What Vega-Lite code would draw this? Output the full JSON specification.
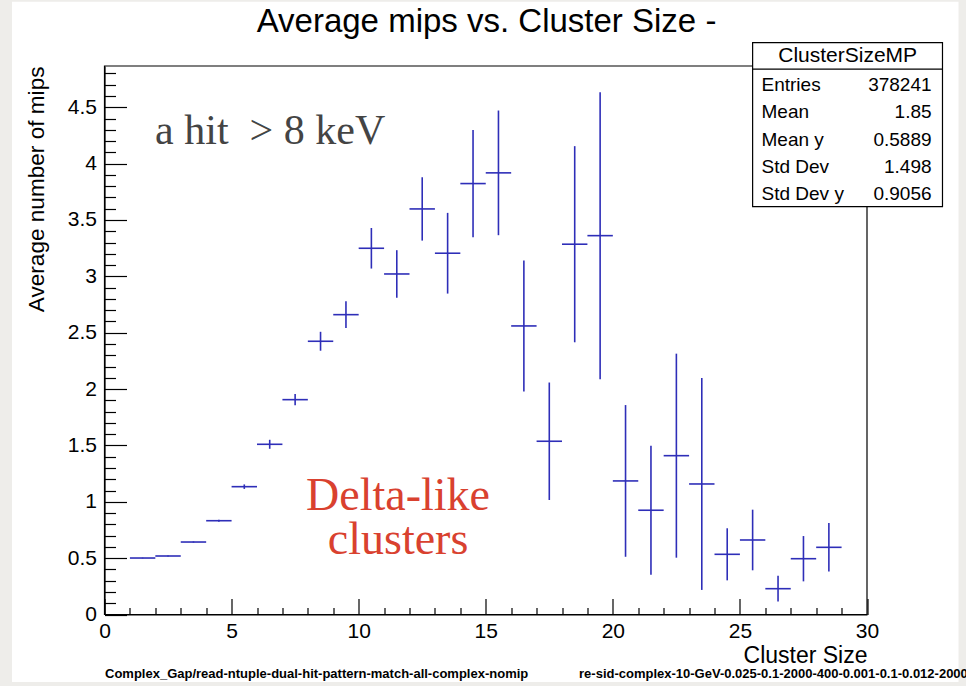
{
  "$schema": "https://vega.github.io/schema/vega-lite/v6.json",
  "width": 762.5,
  "height": 548.5,
  "autosize": "none",
  "padding": {"left": 104.5, "top": 66, "right": 99, "bottom": 71.5},
  "background": "#eeedea",
  "config": {
    "view": {"stroke": null},
    "font": "Liberation Sans"
  },
  "layer": [
    {
      "data": {
        "values": [
          {"size": 1.5, "from": 1, "to": 2, "mean": 0.501, "err": 0.003},
          {"size": 2.5, "from": 2, "to": 3, "mean": 0.519, "err": 0.004},
          {"size": 3.5, "from": 3, "to": 4, "mean": 0.643, "err": 0.005},
          {"size": 4.5, "from": 4, "to": 5, "mean": 0.832, "err": 0.009},
          {"size": 5.5, "from": 5, "to": 6, "mean": 1.134, "err": 0.02},
          {"size": 6.5, "from": 6, "to": 7, "mean": 1.51, "err": 0.04},
          {"size": 7.5, "from": 7, "to": 8, "mean": 1.906, "err": 0.05},
          {"size": 8.5, "from": 8, "to": 9, "mean": 2.424, "err": 0.084},
          {"size": 9.5, "from": 9, "to": 10, "mean": 2.66, "err": 0.118},
          {"size": 10.5, "from": 10, "to": 11, "mean": 3.249, "err": 0.18},
          {"size": 11.5, "from": 11, "to": 12, "mean": 3.021, "err": 0.211},
          {"size": 12.5, "from": 12, "to": 13, "mean": 3.598, "err": 0.281},
          {"size": 13.5, "from": 13, "to": 14, "mean": 3.205, "err": 0.358},
          {"size": 14.5, "from": 14, "to": 15, "mean": 3.823, "err": 0.476},
          {"size": 15.5, "from": 15, "to": 16, "mean": 3.918, "err": 0.553},
          {"size": 16.5, "from": 16, "to": 17, "mean": 2.56, "err": 0.581},
          {"size": 17.5, "from": 17, "to": 18, "mean": 1.537, "err": 0.521},
          {"size": 18.5, "from": 18, "to": 19, "mean": 3.285, "err": 0.87},
          {"size": 19.5, "from": 19, "to": 20, "mean": 3.361, "err": 1.273},
          {"size": 20.5, "from": 20, "to": 21, "mean": 1.185, "err": 0.673},
          {"size": 21.5, "from": 21, "to": 22, "mean": 0.925, "err": 0.572},
          {"size": 22.5, "from": 22, "to": 23, "mean": 1.409, "err": 0.905},
          {"size": 23.5, "from": 23, "to": 24, "mean": 1.158, "err": 0.94},
          {"size": 24.5, "from": 24, "to": 25, "mean": 0.534, "err": 0.231},
          {"size": 25.5, "from": 25, "to": 26, "mean": 0.661, "err": 0.269},
          {"size": 26.5, "from": 26, "to": 27, "mean": 0.229, "err": 0.114},
          {"size": 27.5, "from": 27, "to": 28, "mean": 0.495, "err": 0.201},
          {"size": 28.5, "from": 28, "to": 29, "mean": 0.596, "err": 0.215}
        ]
      },
      "layer": [
        {
          "data": {"values": [{}]},
          "mark": {"type": "rect", "fill": "#ffffff"},
          "encoding": {
            "x": {"datum": -3.64, "axis": null},
            "x2": {"datum": 33.6},
            "y": {"datum": 5.435, "axis": null},
            "y2": {"datum": -0.599}
          }
        },
        {
          "mark": {"type": "rule", "color": "#2e2eb8", "strokeWidth": 1.6},
          "encoding": {
            "x": {
              "field": "from",
              "type": "quantitative",
              "scale": {"domain": [0, 30], "nice": false, "zero": false},
              "axis": {
                "zindex": 1,
                "title": "Cluster Size",
                "titleAnchor": "end",
                "titleFont": "Liberation Sans",
                "titleFontSize": 23,
                "titleFontWeight": "normal",
                "titleColor": "#000000",
                "titlePadding": -6,
                "values": [0,1,2,3,4,5,6,7,8,9,10,11,12,13,14,15,16,17,18,19,20,21,22,23,24,25,26,27,28,29,30],
                "tickSize": {"condition": {"test": "datum.value % 5 === 0", "value": -16}, "value": -7},
                "tickColor": "#000000",
                "tickWidth": 1.2,
                "domainColor": "#000000",
                "domainWidth": 1.2,
                "labelExpr": "datum.value % 5 === 0 ? datum.label : ''",
                "labelFont": "Liberation Sans",
                "labelFontSize": 21,
                "labelColor": "#000000",
                "labelPadding": 22,
                "labelOverlap": false,
                "labelFlush": false,
                "grid": false
              }
            },
            "x2": {"field": "to"},
            "y": {
              "field": "mean",
              "type": "quantitative",
              "scale": {"domain": [0, 4.866], "nice": false},
              "axis": {
                "zindex": 1,
                "title": "Average number of mips",
                "titleAnchor": "end",
                "titleFont": "Liberation Sans",
                "titleFontSize": 22.6,
                "titleFontWeight": "normal",
                "titleColor": "#000000",
                "titlePadding": 19,
                "values": [0,0.1,0.2,0.3,0.4,0.5,0.6,0.7,0.8,0.9,1,1.1,1.2,1.3,1.4,1.5,1.6,1.7,1.8,1.9,2,2.1,2.2,2.3,2.4,2.5,2.6,2.7,2.8,2.9,3,3.1,3.2,3.3,3.4,3.5,3.6,3.7,3.8,3.9,4,4.1,4.2,4.3,4.4,4.5,4.6,4.7,4.8],
                "format": "~g",
                "tickSize": {"condition": {"test": "abs(datum.value * 2 - round(datum.value * 2)) < 0.001", "value": -22}, "value": -11},
                "tickColor": "#000000",
                "tickWidth": 1.2,
                "domainColor": "#000000",
                "domainWidth": 1.2,
                "labelExpr": "abs(datum.value * 2 - round(datum.value * 2)) < 0.001 ? datum.label : ''",
                "labelFont": "Liberation Sans",
                "labelFontSize": 21,
                "labelColor": "#000000",
                "labelPadding": 30,
                "labelOverlap": false,
                "labelFlush": false,
                "grid": false
              }
            }
          }
        },
        {
          "mark": {"type": "errorbar", "color": "#2e2eb8", "thickness": 1.6},
          "encoding": {
            "x": {"field": "size", "type": "quantitative", "axis": null},
            "y": {"field": "mean", "type": "quantitative", "axis": null},
            "yError": {"field": "err"}
          }
        },
        {
          "data": {"values": [{"note": "Average mips vs. Cluster Size -"}]},
          "mark": {"type": "text", "font": "Liberation Sans", "fontSize": 33, "color": "#000000", "align": "center", "baseline": "alphabetic"},
          "encoding": {
            "x": {"datum": 15.03, "axis": null},
            "y": {"datum": 5.171, "axis": null},
            "text": {"field": "note"}
          }
        },
        {
          "data": {"values": [{"note": "a hit\u00a0\u00a0> 8 keV"}]},
          "mark": {"type": "text", "font": "Liberation Serif", "fontSize": 42, "color": "#444444", "align": "left", "baseline": "alphabetic"},
          "encoding": {
            "x": {"datum": 1.99, "axis": null},
            "y": {"datum": 4.175, "axis": null},
            "text": {"field": "note"}
          }
        },
        {
          "data": {"values": [{"note": "Delta-like\nclusters"}]},
          "mark": {"type": "text", "font": "Liberation Serif", "fontSize": 46, "color": "#d9412f", "align": "center", "baseline": "alphabetic", "lineBreak": "\n", "lineHeight": 44},
          "encoding": {
            "x": {"datum": 11.55, "axis": null},
            "y": {"datum": 0.927, "axis": null},
            "text": {"field": "note"}
          }
        },
        {
          "data": {"values": [{"note": "Complex_Gap/read-ntuple-dual-hit-pattern-match-all-complex-nomip"}]},
          "mark": {"type": "text", "font": "Liberation Sans", "fontSize": 13, "fontWeight": "bold", "color": "#000000", "align": "left", "baseline": "alphabetic"},
          "encoding": {
            "x": {"datum": 0.02, "axis": null},
            "y": {"datum": -0.563, "axis": null},
            "text": {"field": "note"}
          }
        },
        {
          "data": {"values": [{"note": "re-sid-complex-10-GeV-0.025-0.1-2000-400-0.001-0.1-0.012-2000"}]},
          "mark": {"type": "text", "font": "Liberation Sans", "fontSize": 13, "fontWeight": "bold", "color": "#000000", "align": "left", "baseline": "alphabetic"},
          "encoding": {
            "x": {"datum": 18.67, "axis": null},
            "y": {"datum": -0.563, "axis": null},
            "text": {"field": "note"}
          }
        },
        {
          "data": {"values": [{}]},
          "mark": {"type": "rect", "fill": null, "stroke": "#000000", "strokeWidth": 1.2},
          "encoding": {
            "x": {"datum": 0, "axis": null},
            "x2": {"datum": 30},
            "y": {"datum": 4.866, "axis": null},
            "y2": {"datum": 0}
          }
        },
        {
          "data": {"values": [{}]},
          "mark": {"type": "rect", "fill": "#ffffff", "stroke": "#000000", "strokeWidth": 1.2},
          "encoding": {
            "x": {"datum": 25.5, "axis": null},
            "x2": {"datum": 32.97},
            "y": {"datum": 5.074, "axis": null},
            "y2": {"datum": 3.618}
          }
        },
        {
          "data": {"values": [{}]},
          "mark": {"type": "rule", "color": "#000000", "strokeWidth": 1.2},
          "encoding": {
            "x": {"datum": 25.5, "axis": null},
            "x2": {"datum": 32.97},
            "y": {"datum": 4.838, "axis": null}
          }
        },
        {
          "data": {"values": [{"name": "ClusterSizeMP"}]},
          "mark": {"type": "text", "font": "Liberation Sans", "fontSize": 21, "color": "#000000", "align": "center", "baseline": "alphabetic"},
          "encoding": {
            "x": {"datum": 29.24, "axis": null},
            "y": {"datum": 4.905, "axis": null},
            "text": {"field": "name"}
          }
        }
      ],
      "resolve": {"axis": {"x": "independent", "y": "independent"}}
    },
    {
      "data": {
        "values": [
          {"stat": "Entries", "value": "378241"},
          {"stat": "Mean", "value": "1.85"},
          {"stat": "Mean y", "value": "0.5889"},
          {"stat": "Std Dev", "value": "1.498"},
          {"stat": "Std Dev y", "value": "0.9056"}
        ]
      },
      "encoding": {
        "y": {
          "field": "stat",
          "type": "nominal",
          "sort": null,
          "scale": {"type": "point", "range": [25, 134], "padding": 0},
          "axis": null
        }
      },
      "layer": [
        {
          "mark": {"type": "text", "font": "Liberation Sans", "fontSize": 19, "color": "#000000", "align": "left", "baseline": "alphabetic"},
          "encoding": {
            "x": {"datum": 25.85, "axis": null},
            "text": {"field": "stat"}
          }
        },
        {
          "mark": {"type": "text", "font": "Liberation Sans", "fontSize": 19, "color": "#000000", "align": "right", "baseline": "alphabetic"},
          "encoding": {
            "x": {"datum": 32.54, "axis": null},
            "text": {"field": "value"}
          }
        }
      ]
    }
  ],
  "resolve": {"scale": {"y": "independent"}, "axis": {"x": "independent", "y": "independent"}}
}
